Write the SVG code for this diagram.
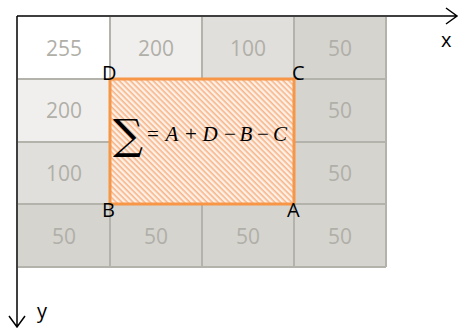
<svg xmlns="http://www.w3.org/2000/svg" width="459" height="329" viewBox="0 0 459 329">
<style>
.num{font-family:"Open Sans","Liberation Sans",sans-serif;font-size:21px;fill:#b0afa8;text-anchor:middle;dominant-baseline:central}
.lbl{font-family:"Open Sans","Liberation Sans",sans-serif;font-size:20px;fill:#000}
.grid{stroke:#b3b2ab;stroke-width:2;fill:none}
.ax{stroke:#000;stroke-width:1.5;fill:none}
.math{font-family:"Liberation Serif","DejaVu Serif",serif;font-style:italic;font-size:21px;fill:#000;text-anchor:middle}
.op{font-style:normal}
</style>
<defs>
<pattern id="hatch" patternUnits="userSpaceOnUse" width="4" height="4" patternTransform="rotate(45)">
<rect width="4" height="4" fill="#fdf0e6"/>
<rect x="0" y="0" width="4" height="1.6" fill="#f7b589"/>
</pattern>
</defs>
<g id="cells">
<rect x="18" y="17" width="92" height="62" fill="#ffffff"/>
<rect x="110" y="17" width="92" height="62" fill="#f0efed"/>
<rect x="202" y="17" width="92" height="62" fill="#e0dfdb"/>
<rect x="294" y="17" width="92" height="62" fill="#d5d4cf"/>
<rect x="18" y="79" width="92" height="63" fill="#f0efed"/>
<rect x="110" y="79" width="92" height="63" fill="#e0dfdb"/>
<rect x="202" y="79" width="92" height="63" fill="#d5d4cf"/>
<rect x="294" y="79" width="92" height="63" fill="#d5d4cf"/>
<rect x="18" y="142" width="92" height="62" fill="#e0dfdb"/>
<rect x="110" y="142" width="92" height="62" fill="#d5d4cf"/>
<rect x="202" y="142" width="92" height="62" fill="#d5d4cf"/>
<rect x="294" y="142" width="92" height="62" fill="#d5d4cf"/>
<rect x="18" y="204" width="368" height="63" fill="#d5d4cf"/>
</g>
<g id="gridlines" class="grid">
<path d="M18 79H386M18 142H386M18 204H386M18 267H386M110 17V267M202 17V267M294 17V267M386 17V267"/>
</g>
<g id="numbers">
<text class="num" x="64" y="48">255</text>
<text class="num" x="156" y="48">200</text>
<text class="num" x="248" y="48">100</text>
<text class="num" x="340" y="48">50</text>
<text class="num" x="64" y="110">200</text>
<text class="num" x="340" y="110">50</text>
<text class="num" x="64" y="173">100</text>
<text class="num" x="340" y="173">50</text>
<text class="num" x="64" y="236">50</text>
<text class="num" x="156" y="236">50</text>
<text class="num" x="248" y="236">50</text>
<text class="num" x="340" y="236">50</text>
</g>
<g id="region">
<rect x="110" y="79" width="184" height="125" fill="url(#hatch)" stroke="#f79646" stroke-width="3"/>
<text x="113" y="149" font-family="'DejaVu Serif','Liberation Serif',serif" font-size="42" fill="#000">∑</text>
<text class="math" y="141"><tspan class="op" x="153">=</tspan><tspan x="172">A</tspan><tspan class="op" x="191">+</tspan><tspan x="210">D</tspan><tspan class="op" x="230">−</tspan><tspan x="246">B</tspan><tspan class="op" x="263">−</tspan><tspan x="280">C</tspan></text>
</g>
<g id="labels">
<text class="lbl" x="102" y="80">D</text>
<text class="lbl" x="292" y="80">C</text>
<text class="lbl" x="102" y="217">B</text>
<text class="lbl" x="287" y="217">A</text>
<text class="lbl" x="441" y="47">x</text>
<text class="lbl" x="37" y="318">y</text>
</g>
<g id="axes" class="ax">
<path d="M17 16H457M446 8L457 16L446 24"/>
<path d="M17 16V327M9 316L17 327L25 316"/>
</g>
</svg>
